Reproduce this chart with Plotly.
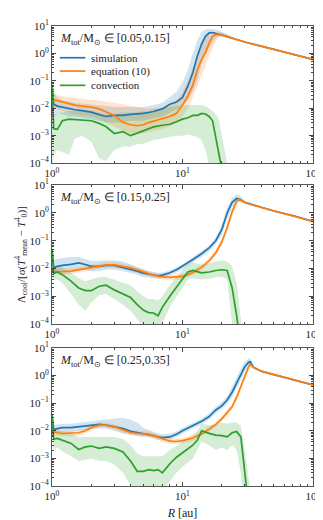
import plotly.graph_objects as go

# ---- panel 1: M_tot in [0.05, 0.15]
r1 = [1.0, 1.03, 1.1, 1.2, 1.35, 1.5, 1.7, 2.0, 2.3, 2.6, 3.0, 3.5, 4.0, 4.5, 5.0, 5.5, 6.0, 7.0, 8.0, 9.0,
      10, 11, 12, 13, 14, 15, 16, 17, 18, 19, 20, 22, 25, 30, 40, 50, 70, 100]
sim1 = [0.07, 0.014, 0.012, 0.011, 0.0095, 0.0088, 0.0082, 0.0072, 0.0058, 0.005, 0.0055, 0.0055, 0.006, 0.0062,
        0.0065, 0.007, 0.0076, 0.0095, 0.014, 0.017, 0.025, 0.065, 0.2, 0.8, 2.2, 4.2, 5.6, 5.8, 5.5, 5.1, 4.7,
        4.1, 3.4, 2.6, 1.85, 1.4, 0.92, 0.6]
sim1_hi = [0.12, 0.04, 0.025, 0.02, 0.018, 0.016, 0.015, 0.014, 0.013, 0.012, 0.011, 0.011, 0.011, 0.011, 0.011,
           0.012, 0.013, 0.016, 0.025, 0.04, 0.09, 0.25, 1.0, 3.0, 6.0, 7.5, 7.8, 7.8, 7.5, 7.0, 6.3, 5.0, 3.6]
sim1_lo = [0.004, 0.005, 0.006, 0.006, 0.005, 0.005, 0.0045, 0.004, 0.0035, 0.003, 0.003, 0.003, 0.0035, 0.0035,
           0.0035, 0.004, 0.0045, 0.005, 0.007, 0.009, 0.012, 0.02, 0.04, 0.1, 0.4, 0.9, 1.6, 2.5, 3.6, 4.3, 4.4,
           3.9, 3.3]
eq1 = [0.022, 0.02, 0.019, 0.017, 0.015, 0.013, 0.012, 0.011, 0.0095, 0.0075, 0.0055, 0.003, 0.0025, 0.0023,
       0.0025, 0.003, 0.0034, 0.0042, 0.005, 0.0065, 0.013, 0.028, 0.07, 0.25, 0.6, 1.1, 2.4, 4.2, 4.9, 4.8, 4.6,
       4.1, 3.4, 2.6, 1.85, 1.4, 0.92, 0.6]
eq1_hi = [0.04, 0.035, 0.03, 0.027, 0.025, 0.024, 0.022, 0.02, 0.019, 0.018, 0.016, 0.014, 0.012, 0.011, 0.01,
          0.01, 0.01, 0.011, 0.014, 0.02, 0.04, 0.1, 0.3, 0.9, 2.2, 4.0, 5.5, 6.0, 6.0, 6.0, 5.8, 4.8, 3.5]
eq1_lo = [0.01, 0.01, 0.009, 0.008, 0.007, 0.006, 0.0055, 0.005, 0.004, 0.003, 0.0022, 0.0015, 0.0012, 0.0012,
          0.0012, 0.0013, 0.0015, 0.0018, 0.0022, 0.003, 0.005, 0.01, 0.025, 0.06, 0.15, 0.35, 0.8, 1.6, 2.8, 3.8,
          4.2, 3.9, 3.2]
conv1 = [0.07, 0.0018, 0.0017, 0.0035, 0.004, 0.0039, 0.0037, 0.0035, 0.0028, 0.0021, 0.0012, 0.0014, 0.001,
         0.0012, 0.0015, 0.0018, 0.0021, 0.0024, 0.0026, 0.0032, 0.004, 0.0045, 0.0055, 0.0055, 0.0065, 0.0062,
         0.005, 0.0035, 0.0008, 0.0002, 0.00006]
conv1_hi = [0.1, 0.006, 0.006, 0.007, 0.008, 0.008, 0.008, 0.008, 0.007, 0.006, 0.006, 0.007, 0.007, 0.007, 0.008,
            0.008, 0.009, 0.01, 0.011, 0.012, 0.012, 0.013, 0.013, 0.013, 0.013, 0.012, 0.01, 0.008, 0.006, 0.004,
            0.001, 0.0001]
conv1_lo = [0.00005, 0.0002, 0.0003, 0.00025, 0.0002, 0.0008, 0.001, 0.0006, 0.00015, 0.00012, 0.0003, 0.0004,
            0.0004, 0.0005, 0.0005, 0.0006, 0.0007, 0.0008, 0.0009, 0.001, 0.001, 0.0011, 0.001, 0.0009, 0.0007,
            0.0003, 0.00008, 0.00003, 0.00001, 0.00001, 0.00001, 0.00001]

# ---- panel 2: M_tot in [0.15, 0.25]
r2 = [1.0, 1.03, 1.1, 1.2, 1.4, 1.6, 1.8, 2.0, 2.3, 2.6, 3.0, 3.5, 4.0, 4.5, 5.0, 5.5, 6.0, 6.5, 7.0, 8.0, 9.0,
      10, 11, 12, 14, 16, 18, 20, 22, 24, 26, 27, 28, 30, 35, 40, 50, 70, 100]
sim2 = [0.045, 0.011, 0.012, 0.013, 0.014, 0.016, 0.014, 0.012, 0.012, 0.013, 0.013, 0.011, 0.0095, 0.008, 0.0068,
        0.0062, 0.0058, 0.0055, 0.0058, 0.007, 0.009, 0.012, 0.016, 0.021, 0.034, 0.055, 0.1, 0.25, 1.0, 2.4, 3.3,
        3.2, 3.0, 2.4, 1.9, 1.6, 1.17, 0.8, 0.5]
sim2_hi = [0.06, 0.02, 0.022, 0.024, 0.026, 0.026, 0.022, 0.019, 0.019, 0.02, 0.02, 0.018, 0.014, 0.011, 0.009,
           0.008, 0.0075, 0.007, 0.0072, 0.0085, 0.011, 0.014, 0.019, 0.026, 0.042, 0.068, 0.13, 0.4, 1.6, 3.5, 4.6,
           4.5, 4.0, 2.6]
sim2_lo = [0.02, 0.008, 0.0085, 0.009, 0.009, 0.009, 0.009, 0.008, 0.008, 0.009, 0.009, 0.008, 0.007, 0.006, 0.005,
           0.0048, 0.0045, 0.0044, 0.0046, 0.0056, 0.0072, 0.0095, 0.012, 0.016, 0.026, 0.042, 0.075, 0.16, 0.6, 1.6,
           2.4, 2.5, 2.4, 2.3]
eq2 = [0.009, 0.008, 0.0078, 0.0077, 0.008, 0.009, 0.01, 0.011, 0.0125, 0.0135, 0.0135, 0.012, 0.0105, 0.009,
       0.0075, 0.0065, 0.0058, 0.0053, 0.005, 0.0048, 0.0049, 0.0052, 0.006, 0.0072, 0.011, 0.019, 0.037, 0.09, 0.3,
       1.1, 2.6, 3.0, 2.9, 2.4, 1.9, 1.6, 1.17, 0.8, 0.5]
eq2_hi = [0.011, 0.01, 0.0098, 0.0097, 0.0102, 0.0115, 0.0128, 0.014, 0.016, 0.017, 0.017, 0.015, 0.013, 0.0112,
          0.0094, 0.0082, 0.0073, 0.0066, 0.0062, 0.006, 0.0061, 0.0065, 0.0075, 0.009, 0.014, 0.024, 0.047, 0.12,
          0.42, 1.5, 3.3, 3.6, 3.3, 2.5]
eq2_lo = [0.0072, 0.0064, 0.0062, 0.0061, 0.0064, 0.0071, 0.0079, 0.0087, 0.0099, 0.0107, 0.0107, 0.0095, 0.0083,
          0.0071, 0.006, 0.0052, 0.0046, 0.0042, 0.004, 0.0038, 0.0039, 0.0041, 0.0048, 0.0057, 0.0087, 0.015, 0.029,
          0.068, 0.21, 0.8, 2.0, 2.5, 2.5, 2.3]
conv2 = [0.05, 0.0066, 0.0075, 0.006, 0.0035, 0.002, 0.0016, 0.0016, 0.0023, 0.0025, 0.0017, 0.0012, 0.0009,
         0.0005, 0.00032, 0.00026, 0.00025, 0.0002, 0.0004, 0.001, 0.0022, 0.0042, 0.0075, 0.0085, 0.007, 0.0075,
         0.0085, 0.009, 0.0085, 0.002, 0.0002, 0.00005]
conv2_hi = [0.06, 0.012, 0.012, 0.011, 0.007, 0.0045, 0.0035, 0.004, 0.005, 0.005, 0.004, 0.003, 0.0025, 0.0015,
            0.001, 0.0008, 0.0008, 0.0007, 0.001, 0.0025, 0.005, 0.009, 0.014, 0.016, 0.014, 0.015, 0.018, 0.02,
            0.018, 0.012, 0.003, 0.0008, 0.0002, 0.00003]
conv2_lo = [0.03, 0.004, 0.004, 0.003, 0.0012, 0.0005, 0.0003, 0.0006, 0.0011, 0.0012, 0.0008, 0.0005, 0.0003,
            0.00015, 0.00008, 0.00006, 0.00006, 0.00005, 0.0001, 0.0004, 0.001, 0.002, 0.004, 0.0045, 0.004, 0.0042,
            0.005, 0.005, 0.004, 0.0001, 0.00001, 0.00001, 0.00001, 0.00001]

# ---- panel 3: M_tot in [0.25, 0.35]
r3 = [1.0, 1.03, 1.1, 1.2, 1.4, 1.6, 1.8, 2.0, 2.3, 2.6, 3.0, 3.5, 4.0, 4.5, 5.0, 5.5, 6.0, 6.5, 7.0, 8.0, 9.0,
      10, 12, 13, 14, 16, 18, 20, 22, 24, 26, 28, 30, 32, 33, 35, 40, 50, 70, 100]
sim3 = [0.04, 0.011, 0.012, 0.013, 0.013, 0.014, 0.015, 0.016, 0.017, 0.016, 0.014, 0.012, 0.0095, 0.0087, 0.008,
        0.0076, 0.0067, 0.006, 0.0057, 0.006, 0.0075, 0.01, 0.015, 0.018, 0.022, 0.033, 0.057, 0.08, 0.13, 0.25,
        0.55, 1.1, 2.1, 3.0, 3.2, 2.0, 1.45, 1.08, 0.72, 0.46]
sim3_hi = [0.05, 0.016, 0.017, 0.018, 0.018, 0.019, 0.02, 0.022, 0.024, 0.026, 0.028, 0.03, 0.025, 0.02, 0.013,
           0.011, 0.009, 0.008, 0.0075, 0.008, 0.0095, 0.013, 0.019, 0.023, 0.028, 0.042, 0.075, 0.11, 0.18, 0.4,
           0.9, 1.8, 3.2, 4.2, 4.2, 2.2]
sim3_lo = [0.03, 0.008, 0.0085, 0.009, 0.0095, 0.01, 0.011, 0.012, 0.012, 0.012, 0.01, 0.008, 0.0068, 0.0065,
           0.006, 0.0058, 0.0052, 0.0047, 0.0045, 0.0047, 0.006, 0.008, 0.012, 0.014, 0.017, 0.026, 0.044, 0.062,
           0.095, 0.17, 0.35, 0.7, 1.4, 2.2, 2.5, 1.8]
eq3 = [0.0095, 0.009, 0.0085, 0.008, 0.008, 0.0085, 0.01, 0.013, 0.016, 0.016, 0.014, 0.0105, 0.0087, 0.008, 0.008,
       0.0076, 0.0067, 0.0058, 0.005, 0.0042, 0.0041, 0.0044, 0.0055, 0.0065, 0.0076, 0.0115, 0.017, 0.027, 0.044,
       0.074, 0.165, 0.42, 1.0, 2.0, 2.6, 2.0, 1.45, 1.08, 0.72, 0.46]
eq3_hi = [0.012, 0.0113, 0.0106, 0.01, 0.01, 0.0106, 0.0125, 0.0163, 0.02, 0.02, 0.0175, 0.0131, 0.0109, 0.01, 0.01,
          0.0095, 0.0084, 0.0073, 0.0063, 0.0053, 0.0051, 0.0055, 0.0069, 0.0081, 0.0095, 0.0144, 0.021, 0.034,
          0.055, 0.093, 0.21, 0.55, 1.3, 2.6, 3.3, 2.2]
eq3_lo = [0.0076, 0.0072, 0.0068, 0.0064, 0.0064, 0.0068, 0.008, 0.0104, 0.0128, 0.0128, 0.0112, 0.0084, 0.007,
          0.0064, 0.0064, 0.0061, 0.0054, 0.0046, 0.004, 0.0034, 0.0033, 0.0035, 0.0044, 0.0052, 0.0061, 0.0092,
          0.0136, 0.022, 0.035, 0.059, 0.13, 0.32, 0.75, 1.5, 2.0, 1.8]
conv3 = [0.033, 0.005, 0.0053, 0.0045, 0.0035, 0.0021, 0.0026, 0.0028, 0.0023, 0.0026, 0.0023, 0.0017, 0.0008,
         0.00034, 0.00034, 0.00039, 0.00036, 0.00039, 0.0003, 0.00064, 0.0011, 0.0016, 0.003, 0.0046, 0.01, 0.0081,
         0.007, 0.0067, 0.006, 0.0085, 0.0095, 0.006, 0.0005, 0.00002]
conv3_hi = [0.04, 0.01, 0.01, 0.009, 0.008, 0.006, 0.006, 0.006, 0.006, 0.006, 0.006, 0.005, 0.003, 0.0015, 0.0012,
            0.0012, 0.0012, 0.0012, 0.0012, 0.002, 0.003, 0.004, 0.007, 0.01, 0.018, 0.016, 0.017, 0.02, 0.018,
            0.02, 0.02, 0.015, 0.002, 0.0002, 0.0001, 0.00001]
conv3_lo = [0.02, 0.002, 0.0025, 0.0018, 0.0012, 0.0008, 0.0009, 0.001, 0.0008, 0.0008, 0.0006, 0.0003, 0.0001,
            0.00004, 0.00004, 0.00005, 0.00005, 0.00006, 0.00006, 0.00015, 0.0003, 0.0005, 0.001, 0.002, 0.004,
            0.003, 0.002, 0.0025, 0.002, 0.003, 0.002, 0.0003, 0.00001, 0.00001, 0.00001, 0.00001]

labels = ["[0.05,0.15]", "[0.15,0.25]", "[0.25,0.35]"]
names = ["simulation", "equation (10)", "convection"]
colors = ["#1f77b4", "#ff7f0e", "#2ca02c"]
fills = ["rgba(31,119,180,0.2)", "rgba(255,127,14,0.2)", "rgba(44,160,44,0.2)"]

panels = [
    (r1, [(sim1, sim1_lo, sim1_hi), (eq1, eq1_lo, eq1_hi), (conv1, conv1_lo, conv1_hi)]),
    (r2, [(sim2, sim2_lo, sim2_hi), (eq2, eq2_lo, eq2_hi), (conv2, conv2_lo, conv2_hi)]),
    (r3, [(sim3, sim3_lo, sim3_hi), (eq3, eq3_lo, eq3_hi), (conv3, conv3_lo, conv3_hi)]),
]

FONT = "Liberation Serif"
TXT = "#222"
fig = go.Figure()

for p, (r, series) in enumerate(panels):
    xa = "x" if p == 0 else "x%d" % (p + 1)
    ya = "y" if p == 0 else "y%d" % (p + 1)
    # shaded bands first
    for k, (mid, lo, hi) in enumerate(series):
        n = len(hi)
        fig.add_trace(go.Scatter(x=r[:n] + r[:n][::-1], y=hi + lo[::-1],
                                 fill="toself", fillcolor=fills[k], line=dict(width=0),
                                 mode="lines", hoverinfo="skip", showlegend=False,
                                 xaxis=xa, yaxis=ya))
    for k, (mid, lo, hi) in enumerate(series):
        fig.add_trace(go.Scatter(x=r[:len(mid)], y=mid, mode="lines",
                                 line=dict(color=colors[k], width=1.7),
                                 name=names[k], showlegend=False,
                                 xaxis=xa, yaxis=ya))

domains = [[0.702, 1.0], [0.352, 0.654], [0.0, 0.300]]
xt = dict(type="log", range=[0, 2], tickvals=[1, 10, 100],
          ticktext=["10<sup>0</sup>", "10<sup>1</sup>", "10<sup>2</sup>"],
          ticks="inside", ticklen=4, tickcolor="#444", mirror="allticks",
          showline=True, linecolor="#555", linewidth=1, showgrid=False, zeroline=False,
          minor=dict(ticks="inside", ticklen=2, tickcolor="#444",
                     tickvals=[2, 3, 4, 5, 6, 7, 8, 9, 20, 30, 40, 50, 60, 70, 80, 90]),
          tickfont=dict(family=FONT, size=11, color=TXT))
ymin = []
for e in [1e-4, 1e-3, 1e-2, 1e-1, 1]:
    for m in range(2, 10):
        ymin.append(m * e)
yt = dict(type="log", range=[-4, 1], tickvals=[1e-4, 1e-3, 1e-2, 1e-1, 1, 10],
          ticktext=["10<sup>\u22124</sup>", "10<sup>\u22123</sup>", "10<sup>\u22122</sup>",
                    "10<sup>\u22121</sup>", "10<sup>0</sup>", "10<sup>1</sup>"],
          ticks="inside", ticklen=4, tickcolor="#444", mirror="allticks",
          showline=True, linecolor="#555", linewidth=1, showgrid=False, zeroline=False,
          minor=dict(ticks="inside", ticklen=2, tickcolor="#444", tickvals=ymin),
          tickfont=dict(family=FONT, size=11, color=TXT))

layout = {}
for p in range(3):
    sx = "xaxis" if p == 0 else "xaxis%d" % (p + 1)
    sy = "yaxis" if p == 0 else "yaxis%d" % (p + 1)
    layout[sx] = dict(xt, domain=[0, 1], anchor="y" if p == 0 else "y%d" % (p + 1))
    layout[sy] = dict(yt, domain=domains[p], anchor="x" if p == 0 else "x%d" % (p + 1))
layout["xaxis3"]["title"] = dict(text="<i>R</i> [au]", font=dict(family=FONT, size=12, color=TXT), standoff=7)

annotations = []
for p in range(3):
    annotations.append(dict(
        text="<i>M</i><sub>tot</sub>/M<sub>\u2299</sub> \u2208 " + labels[p],
        xref="paper", yref="paper", x=0.022, y=domains[p][1] - 0.028,
        xanchor="left", yanchor="middle", showarrow=False,
        font=dict(family=FONT, size=12, color=TXT)))
annotations.append(dict(
    text="\u039b<sub>cool</sub>/[\u03c3(<i>T</i><sup>4</sup><sub>mean</sub> \u2212 <i>T</i><sup>4</sup><sub>0</sub>)]",
    xref="paper", yref="paper", x=-0.12, y=0.503, textangle=-90,
    xanchor="center", yanchor="middle", showarrow=False,
    font=dict(family=FONT, size=11, color=TXT)))

# legend drawn by hand inside the first panel (plotly's legend rows are too tall)
shapes = []
leg_y = [0.931, 0.902, 0.871]
for k in range(3):
    shapes.append(dict(type="line", xref="paper", yref="paper", x0=0.030, x1=0.128,
                       y0=leg_y[k], y1=leg_y[k], line=dict(color=colors[k], width=1.7)))
    annotations.append(dict(text=names[k], xref="paper", yref="paper", x=0.14, y=leg_y[k],
                            xanchor="left", yanchor="middle", showarrow=False,
                            font=dict(family=FONT, size=11, color=TXT)))

fig.update_layout(
    **layout,
    annotations=annotations,
    shapes=shapes,
    width=323, height=520,
    margin=dict(l=44, r=13, t=10, b=33),
    paper_bgcolor="white", plot_bgcolor="white",
    showlegend=False,
)

fig.write_html("out.html")
